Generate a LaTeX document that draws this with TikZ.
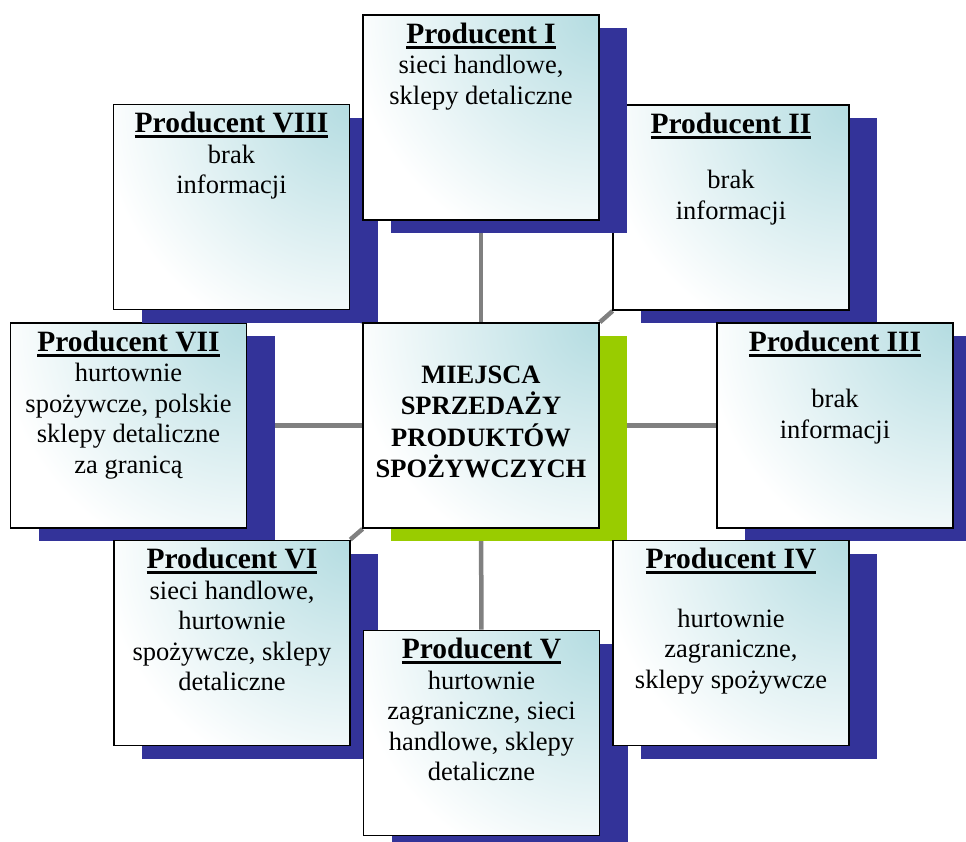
\documentclass[tikz,border=0pt]{standalone}
\usepackage{fontspec}
\setmainfont{Liberation Serif}
\usetikzlibrary{shadows,backgrounds}

\definecolor{boxtint}{RGB}{180,220,225}
\definecolor{shadeblue}{RGB}{51,51,153}
\definecolor{shadegreen}{RGB}{153,204,0}

% underlined title
\newcommand{\prodline}[1]{\setbox0\hbox{#1}\rlap{\rule[-5.5pt]{\wd0}{3pt}}\box0}
% text of a producer box: [gap]{title}{body}
\newcommand{\prodtext}[3][0pt]{%
  \parbox[c][205pt][t]{236pt}{\centering
    \fontsize{29.5}{30.5}\selectfont\bfseries\rule{0pt}{28pt}\prodline{#2}\par
    \vspace{#1}%
    \fontsize{26.5}{30.5}\selectfont\mdseries #3\par}}

\tikzset{
  prodbox/.style={draw=black, line width=1.8pt, fill=white, inner sep=0pt,
    path picture={\shade[inner color=boxtint, outer color=white]
      (path picture bounding box.north east) circle (250pt);},
    drop shadow={shadow xshift=28pt, shadow yshift=-13pt, fill=shadeblue, opacity=1}},
  centerbox/.style={prodbox, drop shadow={shadow xshift=28pt, shadow yshift=-13pt, fill=shadegreen, opacity=1}},
  link/.style={draw=gray, line width=4.5pt}
}

\begin{document}
\begin{tikzpicture}[x=1pt, y=-1pt]
	\useasboundingbox (0,0) rectangle (966,841);
	
	% Producer boxes (drawing order matters for the shadows)
	\node[prodbox] (p7) at (128.5,425.5) {\prodtext{Producent VII}{hurtownie\\ spożywcze, polskie\\ sklepy detaliczne\\ za granicą}};
	\node[prodbox] (p8) at (231.5,207) {\prodtext{Producent VIII}{brak\\ informacji}};
	\node[prodbox] (p2) at (731,207.5) {\prodtext[25pt]{Producent II}{brak\\ informacji}};
	\node[prodbox] (p1) at (481,117.5) {\prodtext{Producent I}{sieci handlowe,\\ sklepy detaliczne}};
	
	% Center box
	\node[centerbox] (c) at (481,425.5) {\parbox[c][205pt][t]{236pt}{\centering
		\fontsize{26.5}{31.5}\selectfont\bfseries\rule{0pt}{60pt}MIEJSCA\\ SPRZEDAŻY\\ PRODUKTÓW\\ SPOŻYWCZYCH}};
	
	\node[prodbox] (p3) at (835,425.5) {\prodtext[26pt]{Producent III}{brak\\ informacji}};
	\node[prodbox] (p6) at (232,643) {\prodtext{Producent VI}{sieci handlowe,\\ hurtownie\\ spożywcze, sklepy\\ detaliczne}};
	\node[prodbox] (p5) at (481.5,733) {\prodtext{Producent V}{hurtownie\\ zagraniczne, sieci\\ handlowe, sklepy\\ detaliczne}};
	\node[prodbox] (p4) at (731,643) {\prodtext[28pt]{Producent IV}{hurtownie\\ zagraniczne,\\ sklepy spożywcze}};
	
	% Edges from center to producers
	\begin{pgfonlayer}{background}
		\foreach \p in {p1,p2,p3,p4,p5,p6,p7,p8}
			\draw[link] (c) -- (\p);
	\end{pgfonlayer}
\end{tikzpicture}
\end{document}
